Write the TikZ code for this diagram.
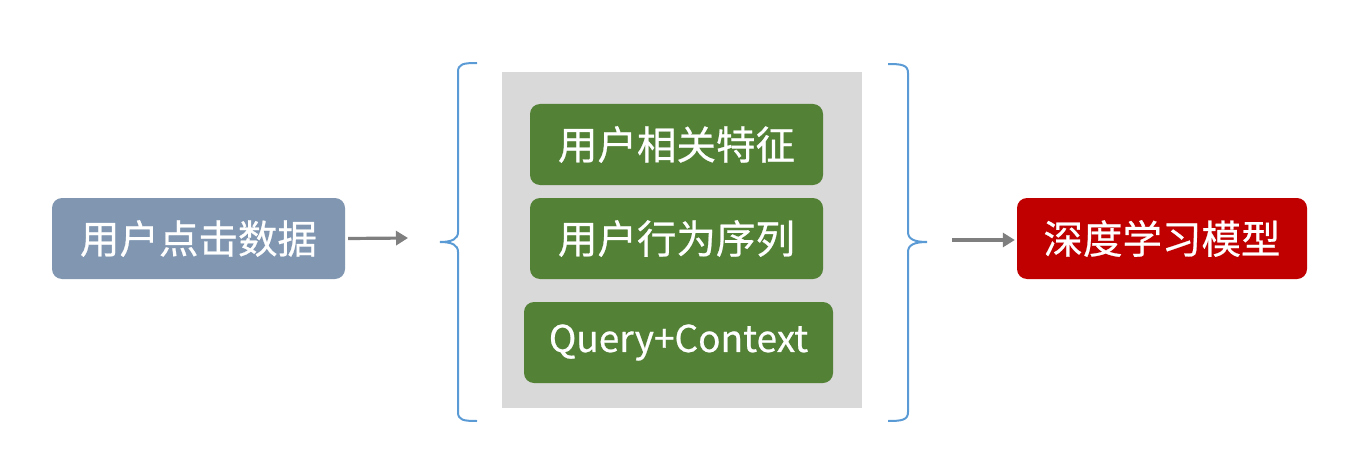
\documentclass[tikz,border=0pt]{standalone}
\usepackage{fontspec}
\setmainfont{Noto Sans CJK SC}[FakeBold=0.6]
\usetikzlibrary{arrows.meta}
\definecolor{slate}{HTML}{8096B1}
\definecolor{leaf}{HTML}{538135}
\definecolor{deepred}{HTML}{C00000}
\definecolor{panel}{HTML}{D9D9D9}
\definecolor{bracec}{HTML}{5B9BD5}
\definecolor{arrc}{HTML}{7F7F7F}
\tikzset{
  box/.style={rounded corners=10pt, text=white, align=center, inner sep=0pt,
    font=\fontsize{39.5}{44}\selectfont},
  arr/.style={draw=arrc, line width=3.2pt, -{Triangle[length=12pt,width=14pt]}},
  bracepath/.style={draw=bracec, line width=2pt},
}
\begin{document}
\begin{tikzpicture}[x=1pt,y=-1pt]
\useasboundingbox (0,0) rectangle (1372,476);
% panel
\node[fill=panel, minimum width=360pt, minimum height=336pt, inner sep=0pt] (panel) at (682,240) {};
% boxes
\node[box, fill=slate, minimum width=293pt, minimum height=81pt] (src) at (198.5,238.5) {用户点击数据};
\node[box, fill=leaf, minimum width=293pt, minimum height=81pt] (f1) at (676.5,144.5) {用户相关特征};
\node[box, fill=leaf, minimum width=293pt, minimum height=81pt] (f2) at (676.5,238.5) {用户行为序列};
\node[box, fill=leaf, minimum width=309pt, minimum height=81pt, font=\fontsize{37}{42}\selectfont] (f3) at (678.5,342.5) {Query+Context};
\node[box, fill=deepred, minimum width=290pt, minimum height=81pt] (dst) at (1162,238.5) {深度学习模型};
% braces
\coordinate (lbtip) at (440,242);
\coordinate (rbtip) at (927,242);
\draw[bracepath] (477,63) .. controls (463,63) and (458,64) .. (458,72) -- (458,232)
  .. controls (458,239) and (452,242) .. (lbtip)
  .. controls (452,242) and (458,245) .. (458,252) -- (458,412)
  .. controls (458,420) and (463,421) .. (477,421);
\draw[bracepath] (888,64) .. controls (902,64) and (908,65) .. (908,73) -- (908,232)
  .. controls (908,239) and (914,242) .. (rbtip)
  .. controls (914,242) and (908,245) .. (908,252) -- (908,412)
  .. controls (908,420) and (902,421) .. (888,421);
% arrows
\coordinate (a1e) at (408,238);
\coordinate (a2s) at (952,240);
\draw[arr] ([xshift=3pt]src.east) -- (a1e);
\draw[arr] (a2s) -- ([xshift=-2pt]dst.west |- a2s);
\end{tikzpicture}
\end{document}
